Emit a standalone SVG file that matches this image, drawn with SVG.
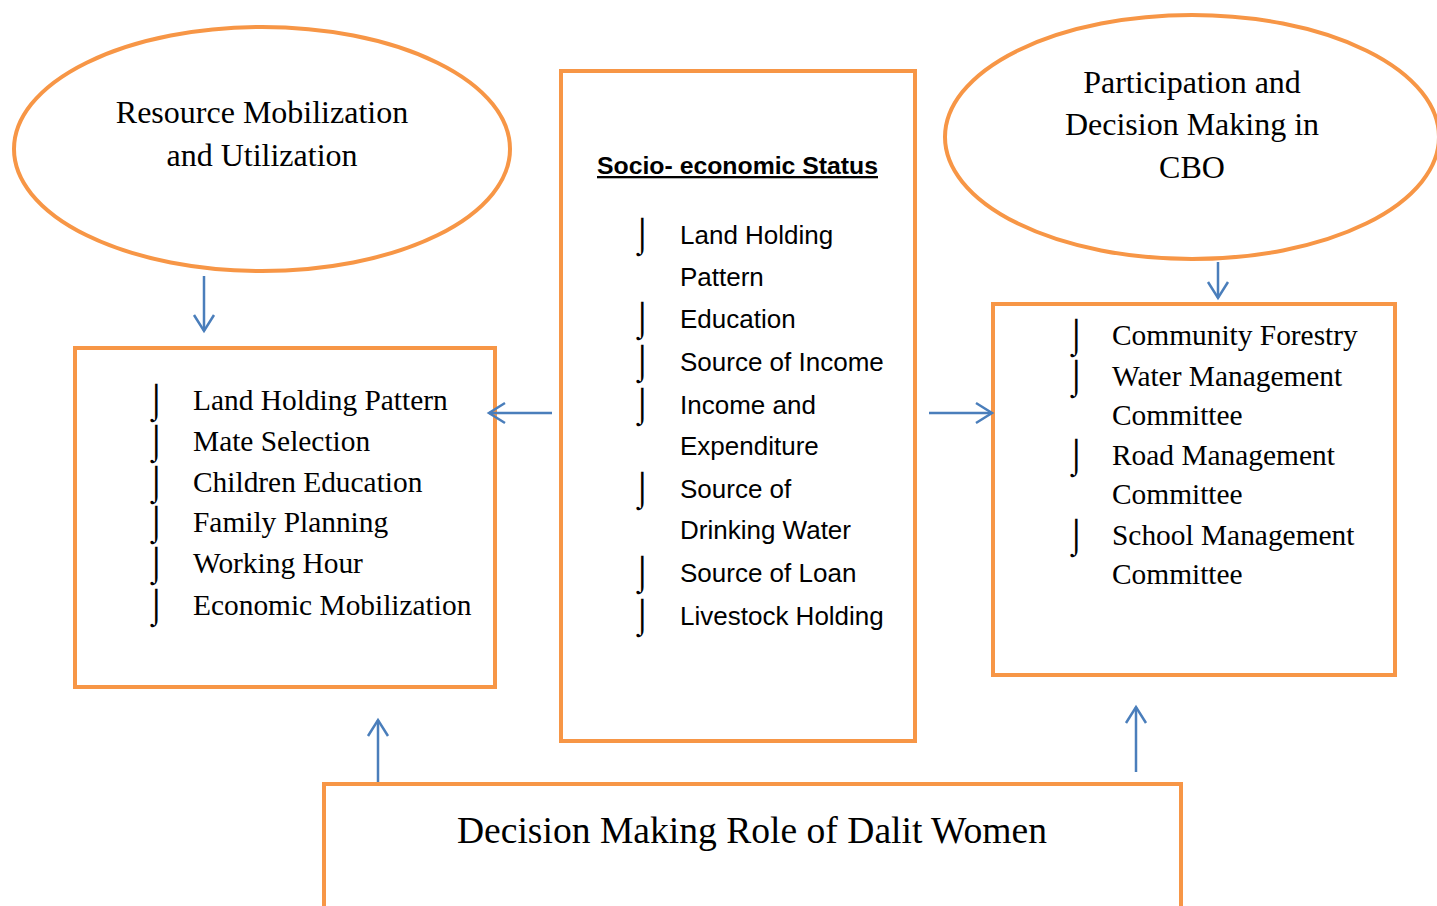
<svg xmlns="http://www.w3.org/2000/svg" width="1437" height="906" viewBox="0 0 1437 906">
  <style>
    .frame { fill: #ffffff; stroke: #F79646; stroke-width: 4; }
    .serif { font-family: "Liberation Serif", "Times New Roman", serif; fill: #000000; }
    .sans { font-family: "Liberation Sans", Arial, sans-serif; fill: #000000; }
    .bul { font-family: "DejaVu Sans ExtraLight", "DejaVu Sans", sans-serif; font-weight: 200; fill: #000000; }
    .link { stroke: #4A7EBB; stroke-width: 2.5; fill: none; marker-end: url(#arrow); }
  </style>
  <defs>
    <marker id="arrow" markerUnits="userSpaceOnUse" markerWidth="22" markerHeight="26" viewBox="0 0 22 26" refX="19" refY="13" orient="auto">
      <path d="M3,3 L19,13 L3,23" fill="none" stroke="#4A7EBB" stroke-width="2.5"/>
    </marker>
  </defs>
  <rect width="1437" height="906" fill="#ffffff"/>

  <!-- Resource mobilization ellipse -->
  <g id="resource">
    <ellipse class="frame" cx="262" cy="149" rx="248" ry="122"/>
    <text class="serif" font-size="32" text-anchor="middle" x="262" y="123">Resource Mobilization</text>
    <text class="serif" font-size="32" text-anchor="middle" x="262" y="166">and Utilization</text>
  </g>

  <!-- Participation ellipse -->
  <g id="participation">
    <ellipse class="frame" cx="1192" cy="137" rx="247" ry="122"/>
    <text class="serif" font-size="32" text-anchor="middle" x="1192" y="93">Participation and</text>
    <text class="serif" font-size="32" text-anchor="middle" x="1192" y="135">Decision Making in</text>
    <text class="serif" font-size="32" text-anchor="middle" x="1192" y="178">CBO</text>
  </g>

  <!-- Socio-economic status box -->
  <g id="socio">
    <rect class="frame" x="561" y="71" width="354" height="670"/>
    <text class="sans" font-size="23" font-weight="bold" x="597" y="174" textLength="281" lengthAdjust="spacingAndGlyphs" text-decoration="underline">Socio- economic Status</text>
    <g class="bul" font-size="34">
      <text x="632" y="246">⌡</text>
      <text x="632" y="330">⌡</text>
      <text x="632" y="373">⌡</text>
      <text x="632" y="416">⌡</text>
      <text x="632" y="500">⌡</text>
      <text x="632" y="584">⌡</text>
      <text x="632" y="627">⌡</text>
    </g>
    <g class="sans" font-size="26">
      <text x="680" y="244">Land Holding</text>
      <text x="680" y="286">Pattern</text>
      <text x="680" y="328">Education</text>
      <text x="680" y="371">Source of Income</text>
      <text x="680" y="414">Income and</text>
      <text x="680" y="455">Expenditure</text>
      <text x="680" y="498">Source of</text>
      <text x="680" y="539">Drinking Water</text>
      <text x="680" y="582">Source of Loan</text>
      <text x="680" y="625">Livestock Holding</text>
    </g>
  </g>

  <!-- Household decision box -->
  <g id="household">
    <rect class="frame" x="75" y="348" width="420" height="339"/>
    <g class="bul" font-size="34">
      <text x="146" y="412">⌡</text>
      <text x="146" y="453">⌡</text>
      <text x="146" y="494">⌡</text>
      <text x="146" y="534">⌡</text>
      <text x="146" y="575">⌡</text>
      <text x="146" y="617">⌡</text>
    </g>
    <g class="serif" font-size="29.4">
      <text x="193" y="410">Land Holding Pattern</text>
      <text x="193" y="451">Mate Selection</text>
      <text x="193" y="492">Children Education</text>
      <text x="193" y="532">Family Planning</text>
      <text x="193" y="573">Working Hour</text>
      <text x="193" y="615">Economic Mobilization</text>
    </g>
  </g>

  <!-- Community based organizations box -->
  <g id="cbo">
    <rect class="frame" x="993" y="304" width="402" height="371"/>
    <g class="bul" font-size="34">
      <text x="1066" y="347">⌡</text>
      <text x="1066" y="388">⌡</text>
      <text x="1066" y="467">⌡</text>
      <text x="1066" y="547">⌡</text>
    </g>
    <g class="serif" font-size="29.4">
      <text x="1112" y="345">Community Forestry</text>
      <text x="1112" y="386">Water Management</text>
      <text x="1112" y="425">Committee</text>
      <text x="1112" y="465">Road Management</text>
      <text x="1112" y="504">Committee</text>
      <text x="1112" y="545">School Management</text>
      <text x="1112" y="584">Committee</text>
    </g>
  </g>

  <!-- Decision making role box (open at the bottom edge) -->
  <g id="role">
    <path d="M324,910 L324,784 L1181,784 L1181,910" fill="#ffffff" stroke="#F79646" stroke-width="4"/>
    <text class="serif" font-size="37.6" text-anchor="middle" x="752" y="843">Decision Making Role of Dalit Women</text>
  </g>

  <!-- Connectors -->
  <g id="connectors">
    <line class="link" x1="204" y1="276" x2="204" y2="331"/>
    <line class="link" x1="1218" y1="262" x2="1218" y2="298"/>
    <line class="link" x1="552" y1="413" x2="489" y2="413"/>
    <line class="link" x1="929" y1="413" x2="992" y2="413"/>
    <line class="link" x1="378" y1="782" x2="378" y2="720"/>
    <line class="link" x1="1136" y1="772" x2="1136" y2="707"/>
  </g>
</svg>
